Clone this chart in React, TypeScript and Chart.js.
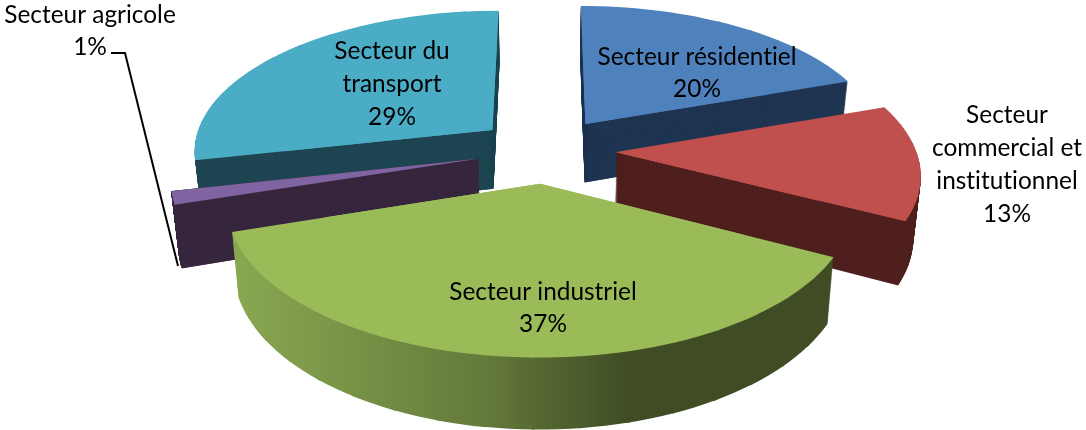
import React, { useEffect, useRef } from "react";
import { Chart, registerables } from "chart.js";

Chart.register(...registerables);

const categories = [
  "Secteur résidentiel",
  "Secteur commercial et institutionnel",
  "Secteur industriel",
  "Secteur agricole",
  "Secteur du transport",
];
const shares = [19.6, 13, 37.4, 1.49, 28.51];
const topColors = ["#4f81bd", "#c0504d", "#9bbb59", "#8064a2", "#4bacc6"];
const wallColors = ["#1f3552", "#4f201e", "#3f4c24", "#38283f", "#1e4652"];

const greenWallStops: [number, string][] = [
  [0, "#8aa852"],
  [0.42, "#647a3a"],
  [0.66, "#3f4c24"],
  [1, "#3f4c24"],
];

// label lines, with their centre in the picture
const labelLines = [
  { lines: ["Secteur résidentiel", "20%"], x: 697, y: 57, step: 32 },
  { lines: ["Secteur", "commercial et", "institutionnel", "13%"], x: 1007, y: 115, step: 33 },
  { lines: ["Secteur industriel", "37%"], x: 543, y: 292, step: 32 },
  { lines: ["Secteur agricole", "1%"], x: 90, y: 15, step: 32 },
  { lines: ["Secteur du", "transport", "29%"], x: 392, y: 51, step: 33 },
];

const FONT = "24.4px Lato, Carlito, sans-serif";
const VIEW = { cx: 546, cy: 150, tilt: 0.468, k: 0.00045, explode: 70, depth: 60, taper: 0.02 };
const WEDGE = (8 * Math.PI) / 180;
const OVERLAP = (0.6 * Math.PI) / 180;
const CORE = 0.7;
const THIN = 0.2;

function project(wx: number, wy: number, z: number) {
  const s = 1 / (1 - VIEW.k * wy);
  const taper = 1 - (VIEW.taper * z) / VIEW.depth;
  return {
    x: VIEW.cx + wx * s * taper,
    y: VIEW.cy + wy * VIEW.tilt * s + z * s,
  };
}

function wedgeMatrix(arc: any, mid: number, a0: number, a1: number, z: number) {
  const r = arc.outerRadius;
  const ax = Math.cos(mid) * VIEW.explode;
  const ay = Math.sin(mid) * VIEW.explode;
  const A = project(ax, ay, z);
  const P = project(ax + r * Math.cos(a0), ay + r * Math.sin(a0), z);
  const Q = project(ax + r * Math.cos(a1), ay + r * Math.sin(a1), z);
  const ux = r * Math.cos(a0), uy = r * Math.sin(a0);
  const vx = r * Math.cos(a1), vy = r * Math.sin(a1);
  const det = ux * vy - uy * vx;
  const px = P.x - A.x, py = P.y - A.y;
  const qx = Q.x - A.x, qy = Q.y - A.y;
  const a = (px * vy - qx * uy) / det;
  const c = (-px * vx + qx * ux) / det;
  const b = (py * vy - qy * uy) / det;
  const d = (-py * vx + qy * ux) / det;
  const e = A.x - a * arc.x - c * arc.y;
  const f = A.y - b * arc.x - d * arc.y;
  return { a, b, c, d, e, f };
}

function inverse(m: any, x: number, y: number) {
  const det = m.a * m.d - m.b * m.c;
  const dx = x - m.e, dy = y - m.f;
  return { x: (m.d * dx - m.c * dy) / det, y: (-m.b * dx + m.a * dy) / det };
}

function paint(ctx: any, arc: any, base: any, m: any, a0: number, a1: number, color: string, stops: [number, string][] | undefined, border: number) {
  let fill: any = color;
  if (stops) {
    // isolines are vertical on screen, whatever the wedge's shear
    const p0 = inverse(m, 232, 300);
    const lambda = (833 - 232) / (m.a * m.a + m.c * m.c);
    const g = ctx.createLinearGradient(p0.x, p0.y, p0.x + lambda * m.a, p0.y + lambda * m.c);
    stops.forEach(([o, col]) => g.addColorStop(o, col));
    fill = g;
  }
  arc.options = { ...base, backgroundColor: fill, borderWidth: border, borderColor: fill, borderJoinStyle: "round" };
  arc.startAngle = a0;
  arc.endAngle = a1;
  arc.circumference = a1 - a0;
  ctx.save();
  ctx.transform(m.a, m.b, m.c, m.d, m.e, m.f);
  arc.draw(ctx);
  ctx.restore();
}

function stamp(ctx: any, arc: any, mid: number, start: number, end: number, z: number, color: string, stops?: [number, string][], border = 0) {
  const base = arc.options;
  const span = end - start;
  const n = Math.max(1, Math.ceil(span / WEDGE));
  const step = span / n;
  if (n > 1) {
    // a smaller whole slice under the fan, so the fan's tips leave no seams
    const m = wedgeMatrix(arc, mid, start, end, z);
    const r = arc.outerRadius;
    arc.outerRadius = r * CORE;
    paint(ctx, arc, base, m, start, end, color, stops, 0);
    arc.outerRadius = r;
  }
  for (let w = 0; w < n; w++) {
    const a0 = start + w * step;
    const a1 = a0 + step;
    const m = wedgeMatrix(arc, mid, a0, a1, z);
    paint(ctx, arc, base, m, a0, w < n - 1 ? a1 + OVERLAP : a1, color, stops, border);
  }
  arc.options = base;
  arc.startAngle = start;
  arc.endAngle = end;
  arc.circumference = span;
}

const pie3d = {
  id: "pie3d",
  beforeDatasetsDraw(chart: any) {
    const ctx = chart.ctx;
    const arcs: any[] = chart.getDatasetMeta(0).data;
    const order = arcs
      .map((arc, i) => ({ arc, i, key: Math.sin((arc.startAngle + arc.endAngle) / 2) }))
      .sort((p, q) => p.key - q.key);
    for (const { arc, i } of order) {
      const start = arc.startAngle;
      const end = arc.endAngle;
      const mid = (start + end) / 2;
      const thin = end - start < THIN;
      const dz = thin ? 0.25 : 1;
      for (let z = VIEW.depth; z >= dz; z -= dz) {
        stamp(ctx, arc, mid, start, end, z, wallColors[i], i === 2 ? greenWallStops : undefined, thin ? 1 : 0);
      }
      stamp(ctx, arc, mid, start, end, 0, topColors[i]);
    }
    return false;
  },
  afterDraw(chart: any) {
    const ctx = chart.ctx;
    ctx.save();
    // leader of the smallest slice
    ctx.strokeStyle = "#000";
    ctx.lineWidth = 2;
    ctx.beginPath();
    ctx.moveTo(111, 53);
    ctx.lineTo(125, 53);
    ctx.lineTo(178, 266);
    ctx.stroke();
    ctx.fillStyle = "#000";
    ctx.font = FONT;
    ctx.letterSpacing = "0.01px";
    ctx.textAlign = "center";
    ctx.textBaseline = "middle";
    for (const l of labelLines) {
      l.lines.forEach((t, i) => ctx.fillText(t, l.x, l.y + i * l.step));
    }
    ctx.restore();
  },
};

export default function App() {
  const ref = useRef<HTMLCanvasElement>(null);
  useEffect(() => {
    const chart = new Chart(ref.current!, {
      type: "pie",
      data: {
        labels: categories,
        datasets: [{ data: shares, backgroundColor: topColors, borderWidth: 0 }],
      },
      options: {
        responsive: false,
        animation: false,
        radius: 300,
        rotation: 0,
        layout: { padding: 0 },
        plugins: { legend: { display: false }, tooltip: { enabled: false } },
      } as any,
      plugins: [pie3d as any],
    });
    return () => chart.destroy();
  }, []);
  return (
    <div style={{ position: "absolute", left: 0, top: 0, width: 1086, height: 430, background: "#fff" }}>
      <canvas ref={ref} width={1086} height={430} style={{ display: "block" }} />
    </div>
  );
}
